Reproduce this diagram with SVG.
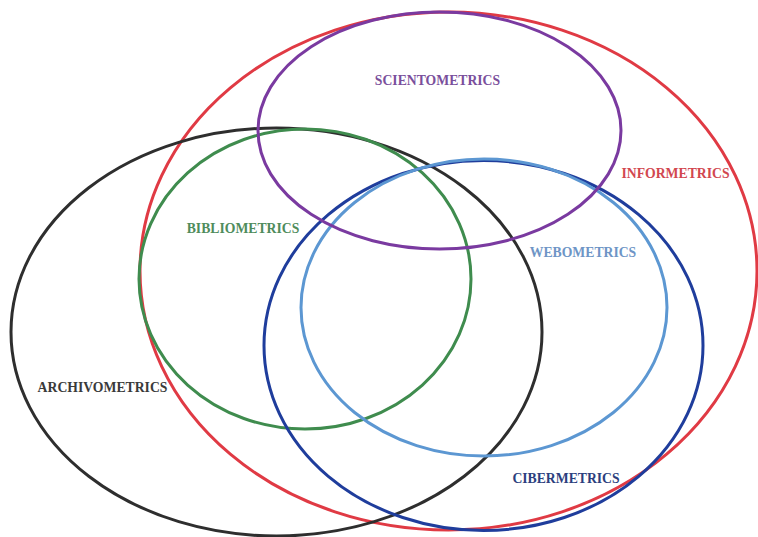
<svg xmlns="http://www.w3.org/2000/svg" width="758" height="537" viewBox="0 0 758 537">
  <style>
    .ring { fill: none; stroke-width: 3; }
    .lbl { font-family: "Liberation Serif", "Times New Roman", serif; font-weight: bold; font-size: 13.7px; text-anchor: middle; }
  </style>
  <rect x="0" y="0" width="758" height="537" fill="#ffffff"/>

  <g id="informetrics">
    <ellipse class="ring" cx="448.5" cy="271" rx="308.5" ry="259" stroke="#e03a44"/>
    <text class="lbl" x="675.5" y="178" fill="#d2474f">INFORMETRICS</text>
  </g>

  <g id="archivometrics">
    <ellipse class="ring" cx="276.5" cy="332" rx="265.5" ry="204" stroke="#2e2e2e"/>
    <text class="lbl" x="102.5" y="392" fill="#3a3a3a">ARCHIVOMETRICS</text>
  </g>

  <g id="bibliometrics">
    <ellipse class="ring" cx="305" cy="279" rx="166" ry="150" stroke="#3f8c4e"/>
    <text class="lbl" x="243" y="233" fill="#4f8c5c">BIBLIOMETRICS</text>
  </g>

  <g id="cibermetrics">
    <ellipse class="ring" cx="483.5" cy="345.5" rx="219.5" ry="185" stroke="#1f3d9c"/>
    <text class="lbl" x="566" y="483" fill="#2c3f7e">CIBERMETRICS</text>
  </g>

  <g id="webometrics">
    <ellipse class="ring" cx="484" cy="307.5" rx="183" ry="148.5" stroke="#5c97d2"/>
    <text class="lbl" x="583" y="257" fill="#6e95c6">WEBOMETRICS</text>
  </g>

  <g id="scientometrics">
    <ellipse class="ring" cx="439.5" cy="130.5" rx="181.5" ry="118.5" stroke="#7a3aa0"/>
    <text class="lbl" x="437.5" y="85" fill="#7a4f9c">SCIENTOMETRICS</text>
  </g>

  <g id="connectors"></g>
</svg>
